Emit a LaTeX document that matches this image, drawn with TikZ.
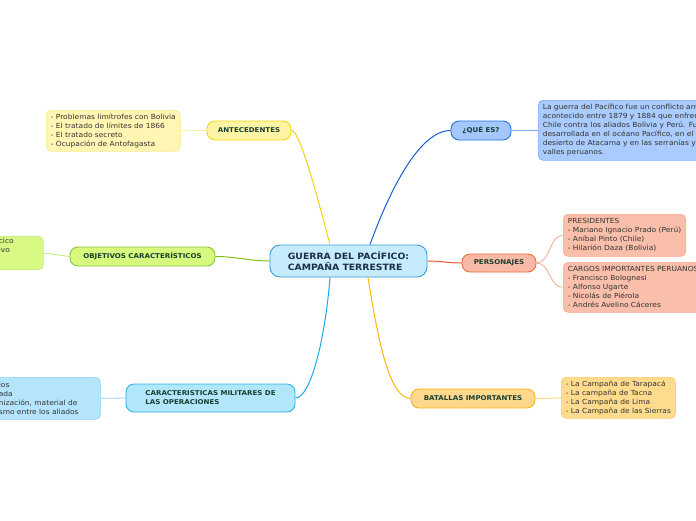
\documentclass[tikz,border=0pt]{standalone}
\usepackage{fontspec}
\setmainfont[FakeStretch=1.07]{DejaVu Sans}
\usetikzlibrary{positioning,calc}

\definecolor{centralFill}{HTML}{C6EBFB}
\definecolor{centralBorder}{HTML}{3C9BD6}
\definecolor{centralText}{HTML}{1C2E4A}
\definecolor{topicText}{HTML}{173F2F}
\definecolor{detailText}{HTML}{333333}
\definecolor{antFill}{HTML}{FFF4A3}
\definecolor{antBorder}{HTML}{F0D80A}
\definecolor{antLine}{HTML}{F3D317}
\definecolor{antBoxFill}{HTML}{FFF6B3}
\definecolor{antBoxBorder}{HTML}{FCE98C}
\definecolor{objFill}{HTML}{D6F97E}
\definecolor{objBorder}{HTML}{86C43A}
\definecolor{objLine}{HTML}{7FBD13}
\definecolor{objBoxFill}{HTML}{D8FA84}
\definecolor{objBoxBorder}{HTML}{C4EC6A}
\definecolor{milFill}{HTML}{B1E6FB}
\definecolor{milBorder}{HTML}{2DB0EA}
\definecolor{milLine}{HTML}{1BA8E8}
\definecolor{milBoxFill}{HTML}{B4E5FC}
\definecolor{milBoxBorder}{HTML}{8ED3F5}
\definecolor{queFill}{HTML}{A4C8FE}
\definecolor{queBorder}{HTML}{2272DB}
\definecolor{queLine}{HTML}{1A5BD3}
\definecolor{queBoxFill}{HTML}{A9CBFD}
\definecolor{queBoxBorder}{HTML}{7EAAF2}
\definecolor{perFill}{HTML}{F8BAA6}
\definecolor{perBorder}{HTML}{F0693A}
\definecolor{perLine}{HTML}{EA5A2B}
\definecolor{perBoxFill}{HTML}{F9BFAA}
\definecolor{perBoxBorder}{HTML}{F5A88E}
\definecolor{batFill}{HTML}{FFD88C}
\definecolor{batBorder}{HTML}{F6B512}
\definecolor{batLine}{HTML}{FBB607}
\definecolor{batBoxFill}{HTML}{FFDB8E}
\definecolor{batBoxBorder}{HTML}{FFCB66}

\begin{document}
\begin{tikzpicture}[x=1pt, y=-1pt,
        central/.style={draw=centralBorder, fill=centralFill, rounded corners=10pt, line width=0.9pt, minimum width=157pt, minimum height=32pt, align=left, text=centralText, font=\fontsize{8.7}{11}\selectfont\bfseries},
        topic/.style={rounded corners=8pt, line width=0.9pt, minimum height=19pt, inner sep=0pt, align=left, text=topicText, font=\fontsize{6.6}{9}\selectfont\bfseries},
        detail/.style={rounded corners=5pt, line width=0.7pt, anchor=north west, inner xsep=4.5pt, inner ysep=0pt, align=left, text=detailText, font=\fontsize{7}{9}\selectfont},
        branch/.style={line width=1pt},
        twig/.style={line width=0.8pt}
    ]
    \useasboundingbox (0,0) rectangle (696,520);
    \clip (0,0) rectangle (696,520);

    % Tema central
    \node[central] (guerra) at (348.5,261) {GUERRA DEL PACÍFICO:\\CAMPAÑA TERRESTRE};

    % Antecedentes
    \node[topic, fill=antFill, draw=antBorder, minimum width=84pt] (ant) at (249,130.5) {ANTECEDENTES};
    \node[detail, fill=antBoxFill, draw=antBoxBorder, minimum height=41pt] (antBox) at (46,110) {- Problemas limítrofes con Bolivia\\- El tratado de límites de 1866\\- El tratado secreto\\- Ocupación de Antofagasta};

    % Objetivos
    \node[topic, fill=objFill, draw=objBorder, minimum width=145pt] (obj) at (142.5,256.5) {OBJETIVOS CARACTERÍSTICOS};
    \node[detail, fill=objBoxFill, draw=objBoxBorder, text width=40pt, text depth=24pt, inner ysep=2pt] (objBox) at (-6,236) {cico\\ivo};

    % Caracteristicas militares
    \node[topic, fill=milFill, draw=milBorder, minimum width=169pt, minimum height=28pt] (mil) at (210.5,398) {CARACTERISTICAS MILITARES DE\\LAS OPERACIONES};
    \node[detail, fill=milBoxFill, draw=milBoxBorder, text width=97pt, minimum height=42pt] (milBox) at (-6,377) {los\\ada\\nización, material de\\smo entre los aliados};

    % Que es
    \node[topic, fill=queFill, draw=queBorder, minimum width=60pt] (que) at (481,130.5) {¿QUÉ ES?};
    \node[detail, fill=queBoxFill, draw=queBoxBorder, minimum height=60pt] (queBox) at (538,100) {La guerra del Pacífico fue un conflicto armado\\acontecido entre 1879 y 1884 que enfrentó a\\Chile contra los aliados Bolivia y Perú. Fue\\desarrollada en el océano Pacífico, en el\\desierto de Atacama y en las serranías y\\valles peruanos.};

    % Personajes
    \node[topic, fill=perFill, draw=perBorder, minimum width=74pt, minimum height=18pt] (per) at (499,263) {PERSONAJES};
    \node[detail, fill=perBoxFill, draw=perBoxBorder, minimum height=42pt] (presBox) at (563,214) {PRESIDENTES\\- Mariano Ignacio Prado (Perú)\\- Aníbal Pinto (Chile)\\- Hilarión Daza (Bolivia)};
    \node[detail, fill=perBoxFill, draw=perBoxBorder, minimum height=50pt] (cargosBox) at (563,262) {CARGOS IMPORTANTES PERUANOS\\- Francisco Bolognesi\\- Alfonso Ugarte\\- Nicolás de Piérola\\- Andrés Avelino Cáceres};

    % Batallas
    \node[topic, fill=batFill, draw=batBorder, minimum width=124pt] (bat) at (473,398.5) {BATALLAS IMPORTANTES};
    \node[detail, fill=batBoxFill, draw=batBoxBorder, minimum height=41pt] (batBox) at (561,377) {- La Campaña de Tarapacá\\- La campaña de Tacna\\- La Campaña de Lima\\- La Campaña de las Sierras};

    % Ramas
    \draw[branch, antLine] ([xshift=-18.5pt]guerra.north) .. controls +(-16,-60) and +(8,0) .. (ant.east);
    \draw[branch, queLine] ([xshift=21.5pt]guerra.north) .. controls +(20,-55) and +(-31,0) .. (que.west);
    \draw[branch, milLine] ([xshift=-18.5pt]guerra.south) .. controls +(-5,63) and +(15,0) .. (mil.east);
    \draw[branch, batLine] ([xshift=19.5pt]guerra.south) .. controls +(10,63) and +(-21,0) .. (bat.west);
    \draw[branch, objLine] (guerra.west) .. controls +(-20,0) and +(20,0) .. (obj.east);
    \draw[branch, perLine] (guerra.east) .. controls +(15,0) and +(-15,0) .. (per.west);

    % Hojas
    \draw[twig, antBoxBorder] (ant.west) -- (antBox.east);
    \draw[twig, objBoxBorder] (obj.west) -- (objBox.east);
    \draw[twig, milBoxBorder] (mil.west) -- (milBox.east);
    \draw[twig, queBoxBorder] (que.east) -- (queBox.west);
    \draw[twig, perBoxBorder] (per.east) .. controls +(14,0) and +(-14,0) .. (presBox.west);
    \draw[twig, perBoxBorder] (per.east) .. controls +(14,0) and +(-14,0) .. (cargosBox.west);
    \draw[twig, batBoxBorder] (bat.east) -- (batBox.west);
\end{tikzpicture}
\end{document}
